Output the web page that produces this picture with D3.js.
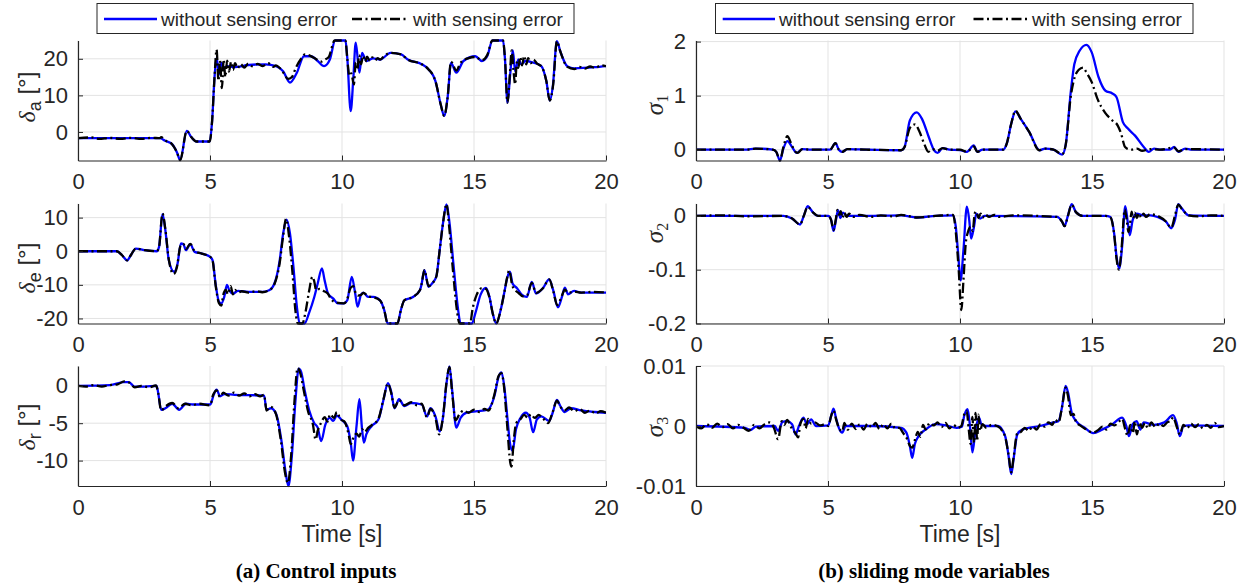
<!DOCTYPE html>
<html>
<head>
<meta charset="utf-8">
<script src="https://cdn.jsdelivr.net/npm/d3@7"></script>
<style>
  body { margin: 0; background: #fff; }
  svg { display: block; }
  text { font-family: "Liberation Sans", Arial, Helvetica, sans-serif; fill: #262626; }
</style>
</head>
<body>
<svg id="chart" width="1241" height="588"></svg>
<script>
// ---- data: [time (s), value] ----
var seriesNames = ["without sensing error", "with sensing error"];
var timeTicks = [0, 5, 10, 15, 20];

var deltaA_clean = [[0,-1.7],[3.1,-1.7],[3.3,-2.4],[3.57,-3.4],[3.75,-5.6],[3.87,-7.7],[4.12,0.3],[4.29,-1.4],[4.49,-2.6],[4.99,-2.6],[5.08,3],[5.17,14.8],[5.25,20.3],[5.34,15.7],[5.43,18.9],[5.52,17.5],[5.65,18],[5.93,17.7],[6.46,18.3],[7.1,18.5],[7.5,18],[7.77,16.6],[8.03,13.5],[8.29,16.2],[8.56,20.7],[8.82,20.7],[9.08,19.4],[9.32,18],[9.54,19.8],[9.74,25],[10.13,25],[10.2,20.3],[10.33,5.7],[10.43,14.8],[10.52,24.4],[10.66,16.2],[10.76,21.6],[10.92,19.4],[11.18,20.1],[11.44,19.8],[11.84,21.6],[12.24,21.2],[12.49,19.8],[13.02,18.5],[13.28,17.1],[13.54,13.9],[13.74,7.5],[13.87,4.4],[14.0,9.4],[14.13,18.9],[14.33,16.2],[14.6,19.4],[15.05,20.7],[15.3,19.4],[15.5,20.7],[15.7,25],[16.1,25],[16.17,20.3],[16.27,8],[16.37,15.7],[16.47,22.3],[16.56,16.6],[16.68,19.8],[16.8,18.5],[16.95,19.4],[17.22,19],[17.55,18],[17.74,13.9],[17.87,8.6],[17.98,12.1],[18.14,24.8],[18.27,22],[18.53,18],[18.8,17.4],[19.58,17.7],[20,18]];
var deltaA_noisy = [[0,-1.7],[0.5,-1.5],[0.8,-1.9],[1.2,-1.6],[1.6,-1.9],[2.0,-1.6],[2.4,-1.9],[2.8,-1.6],[3.1,-1.7],[3.15,-1.4],[3.3,-2.3],[3.57,-3.4],[3.75,-5.6],[3.87,-7.7],[4.12,0.3],[4.29,-1.4],[4.49,-2.6],[4.99,-2.6],[5.08,3],[5.17,14.8],[5.25,22.5],[5.32,14],[5.38,19.5],[5.45,12],[5.52,19.8],[5.58,15],[5.65,19.5],[5.72,16.5],[5.8,19.2],[5.87,17],[5.95,18.8],[6.05,17.4],[6.15,18.6],[6.3,17.6],[6.45,18.7],[6.6,18],[6.8,18.6],[7.0,18],[7.2,18.8],[7.4,17.8],[7.5,18.2],[7.65,17.4],[7.8,16],[7.95,14.5],[8.1,15],[8.25,17.5],[8.45,20],[8.6,21.2],[8.8,20.8],[9.0,20],[9.2,19.2],[9.35,19.8],[9.5,20.5],[9.72,25],[10.13,25],[10.2,20],[10.28,15.3],[10.35,16],[10.45,13],[10.52,19],[10.58,17],[10.65,21],[10.72,18.5],[10.8,20.8],[10.88,19.2],[10.95,20.6],[11.05,19.5],[11.15,20.4],[11.25,19.6],[11.35,20.2],[11.45,19.8],[11.6,20.8],[11.84,21.6],[12.24,21.2],[12.49,19.8],[13.02,18.5],[13.28,17.1],[13.54,13.9],[13.74,7.5],[13.87,4.4],[14.0,9.4],[14.13,19.2],[14.33,16.8],[14.5,19],[14.8,20.2],[15.05,20.5],[15.3,19.6],[15.5,21],[15.7,25],[16.1,25],[16.17,20.3],[16.27,8],[16.36,16],[16.43,22.3],[16.5,16.5],[16.56,13],[16.62,19],[16.68,17.5],[16.75,20.5],[16.82,18.2],[16.9,20.8],[16.98,18.5],[17.05,20.2],[17.15,18.8],[17.25,19.8],[17.4,18.6],[17.55,18],[17.74,13.9],[17.87,8.6],[18.0,13],[18.14,24.8],[18.27,22],[18.53,17.8],[18.8,17.2],[19.0,17.8],[19.2,17.3],[19.4,17.9],[19.6,17.5],[19.8,18.2],[20,18]];

var deltaE_clean = [[0,0],[1.47,0],[1.67,-1.2],[1.86,-2.7],[2.0,-1.2],[2.19,0.8],[2.52,0.3],[2.98,0],[3.07,1.3],[3.2,11],[3.31,6.2],[3.44,-2.7],[3.64,-6.1],[3.77,-3.7],[3.9,2.3],[3.99,2.1],[4.09,0.3],[4.25,2.1],[4.42,-0.2],[4.69,-0.7],[5.01,-1.7],[5.1,-2.7],[5.21,-9.6],[5.34,-15],[5.43,-15.5],[5.54,-13.6],[5.64,-10],[5.73,-11.6],[5.87,-12.6],[6.06,-11.8],[6.46,-12.1],[6.98,-12.1],[7.24,-11.6],[7.44,-9.6],[7.64,-2.7],[7.77,5.2],[7.9,9.4],[8.03,5.2],[8.16,-4.6],[8.29,-16.5],[8.4,-21.5],[8.58,-21.5],[8.75,-18.4],[8.95,-13.6],[9.08,-9.6],[9.24,-5.1],[9.34,-8.6],[9.47,-12.6],[9.67,-14.1],[9.84,-15.5],[10.07,-15.5],[10.2,-14.6],[10.37,-7.6],[10.5,-12.6],[10.59,-16.5],[10.72,-12.9],[10.81,-12.3],[10.99,-13.6],[11.18,-13.6],[11.44,-14.6],[11.6,-17.5],[11.73,-21.5],[12.1,-21.5],[12.23,-17.5],[12.36,-14.6],[12.69,-13.6],[12.95,-11.6],[13.02,-9.6],[13.12,-5.6],[13.28,-10.6],[13.41,-9.6],[13.57,-7.6],[13.7,0.3],[13.83,8.6],[13.96,13.9],[14.07,8.6],[14.23,-4.6],[14.4,-17.5],[14.49,-21.5],[14.92,-21.5],[15.05,-18.5],[15.25,-12.9],[15.45,-10.9],[15.58,-13.4],[15.71,-18.5],[15.84,-21.5],[16.01,-17.5],[16.14,-12.6],[16.27,-7.6],[16.36,-6.1],[16.46,-9.6],[16.63,-11],[16.82,-13],[17.0,-13.6],[17.19,-9.1],[17.35,-12.6],[17.61,-11],[17.85,-8.4],[18.0,-11.6],[18.18,-16.7],[18.33,-13.6],[18.44,-10.8],[18.56,-12.8],[18.79,-11.8],[19.06,-12.3],[20,-12.3]];
var deltaE_noisy = [[0,0],[1.47,0],[1.67,-1.2],[1.86,-2.7],[2.0,-1.2],[2.19,0.8],[2.52,0.3],[2.98,0],[3.07,1.3],[3.2,11.2],[3.31,6.5],[3.44,-2.5],[3.62,-6.8],[3.74,-5],[3.88,1.5],[3.99,2.2],[4.09,0.6],[4.25,2.2],[4.42,0],[4.69,-0.7],[5.01,-1.7],[5.1,-2.9],[5.21,-10],[5.34,-15.5],[5.43,-16.2],[5.5,-13],[5.6,-11.5],[5.68,-12.8],[5.78,-10.4],[5.87,-12.8],[5.95,-11.5],[6.06,-12.3],[6.2,-11.9],[6.46,-12.3],[6.75,-11.9],[6.98,-12.2],[7.24,-11.6],[7.44,-9.8],[7.64,-3.5],[7.77,4.5],[7.88,9.6],[8.0,4],[8.12,-6],[8.24,-18],[8.33,-21.5],[8.5,-21.5],[8.62,-18],[8.75,-12],[8.88,-7.6],[8.95,-9],[9.02,-11.6],[9.15,-11.2],[9.3,-11.8],[9.45,-12.5],[9.6,-14.4],[9.8,-15.3],[10.07,-15.5],[10.2,-14.2],[10.32,-11],[10.42,-10.4],[10.52,-12.5],[10.6,-13.2],[10.72,-13],[10.81,-12.4],[10.99,-13.4],[11.18,-13.7],[11.44,-14.6],[11.6,-17.5],[11.73,-21.5],[12.1,-21.5],[12.23,-17.5],[12.36,-14.6],[12.69,-13.6],[12.95,-11.6],[13.02,-9.6],[13.12,-5.6],[13.28,-10.4],[13.41,-9.6],[13.57,-7.6],[13.7,0.3],[13.83,8.6],[13.96,14],[14.05,8],[14.2,-5.5],[14.36,-18],[14.45,-21.5],[14.85,-21.5],[14.95,-17],[15.1,-13],[15.3,-11],[15.45,-11.2],[15.58,-13.6],[15.71,-18.5],[15.84,-21.5],[16.01,-17.5],[16.14,-12.6],[16.25,-8],[16.33,-5.7],[16.45,-10.2],[16.55,-11.5],[16.7,-12.5],[16.85,-13.4],[17.0,-13.2],[17.19,-9.4],[17.35,-12.4],[17.61,-11],[17.85,-8.4],[18.0,-11.8],[18.15,-16],[18.33,-13.2],[18.44,-11.4],[18.56,-12.4],[18.79,-12],[19.06,-12.3],[19.5,-12.1],[20,-12.3]];

var deltaR_clean = [[0,0],[1.21,0.1],[1.73,0.5],[1.93,0.5],[2.13,-0.1],[2.52,-0.1],[2.98,0],[3.04,-1],[3.15,-3.2],[3.31,-3],[3.57,-2.4],[3.83,-3.2],[4.09,-2.4],[4.36,-2.5],[5.01,-2.5],[5.14,-1.2],[5.25,-0.5],[5.38,-1.4],[5.54,-1.1],[5.93,-1.2],[7.05,-1.3],[7.14,-3.2],[7.31,-3],[7.51,-3.8],[7.7,-7.2],[7.87,-11.7],[7.97,-13.4],[8.1,-9.4],[8.23,-2.3],[8.36,2.3],[8.45,1.9],[8.58,-0.5],[8.75,-3.2],[8.95,-5],[9.08,-5.6],[9.21,-7.4],[9.37,-5.2],[9.54,-4.3],[9.67,-4.7],[9.8,-4],[10.0,-4.6],[10.2,-5.4],[10.33,-7.6],[10.42,-10],[10.55,-5.4],[10.66,-1.8],[10.76,-5.8],[10.83,-7.6],[10.92,-6.5],[11.12,-5.4],[11.38,-4.5],[11.57,-1.9],[11.74,0.35],[11.86,-0.75],[11.99,-3],[12.16,-1.8],[12.36,-2.7],[12.62,-2.3],[13.02,-2.5],[13.22,-4.1],[13.35,-3],[13.54,-4.1],[13.7,-6.1],[13.83,-4.1],[13.96,0.35],[14.07,2.6],[14.17,-0.5],[14.33,-5.6],[14.49,-4.3],[14.72,-3.6],[15.12,-3.4],[15.51,-3.2],[15.77,-1.4],[15.93,1.2],[16.04,1.8],[16.14,0.1],[16.27,-4.5],[16.36,-7.6],[16.46,-8.7],[16.59,-5.8],[16.76,-4.3],[16.96,-3.6],[17.11,-4.3],[17.24,-6.2],[17.38,-4.5],[17.55,-4.1],[17.85,-4.7],[17.98,-3.6],[18.14,-1.9],[18.27,-2.7],[18.43,-3.5],[18.67,-3],[19.06,-3.3],[19.58,-3.5],[20,-3.6]];
var deltaR_noisy = [[0,0],[0.3,-0.1],[0.6,0.1],[0.9,-0.1],[1.2,0.1],[1.5,0.2],[1.75,0.6],[1.95,0.4],[2.15,-0.2],[2.4,0],[2.7,-0.2],[2.95,0.05],[3.04,-1],[3.15,-3.3],[3.3,-2.8],[3.57,-2.3],[3.8,-3],[4.05,-2.4],[4.3,-2.6],[4.6,-2.4],[5.0,-2.6],[5.12,-1.2],[5.25,-0.6],[5.38,-1.5],[5.5,-0.9],[5.7,-1.3],[5.9,-0.9],[6.1,-1.3],[6.3,-1.0],[6.5,-1.4],[6.7,-1.1],[6.9,-1.4],[7.05,-1.2],[7.14,-3.3],[7.3,-2.8],[7.5,-3.8],[7.68,-7.2],[7.85,-11.8],[7.95,-13],[8.08,-9],[8.2,-2],[8.32,2.4],[8.42,1.7],[8.55,-0.6],[8.72,-3.5],[8.9,-5.2],[9.0,-7.2],[9.08,-6],[9.2,-5],[9.35,-4.2],[9.45,-4.8],[9.55,-3.8],[9.7,-4.3],[9.8,-3.5],[9.95,-4.5],[10.1,-4.8],[10.25,-6.5],[10.33,-7.8],[10.45,-6.8],[10.55,-6.4],[10.65,-6.8],[10.76,-5.8],[10.85,-6.2],[11.0,-5.6],[11.15,-5.2],[11.38,-4.4],[11.57,-1.8],[11.74,0.3],[11.86,-0.9],[11.99,-2.9],[12.16,-1.9],[12.36,-2.6],[12.62,-2.2],[12.85,-2.6],[13.02,-2.4],[13.22,-4.2],[13.35,-3.1],[13.54,-4.3],[13.68,-6.5],[13.83,-4],[13.96,0.5],[14.07,2.5],[14.17,-0.8],[14.3,-4.6],[14.45,-3.8],[14.6,-3.3],[14.8,-3.6],[15.0,-3.2],[15.2,-3.5],[15.4,-3.1],[15.55,-3.3],[15.77,-1.2],[15.93,1.3],[16.04,1.7],[16.14,-0.2],[16.25,-5],[16.38,-10.4],[16.42,-10.8],[16.5,-7.5],[16.6,-5],[16.75,-4.5],[16.9,-3.9],[17.05,-4.3],[17.15,-3.8],[17.3,-4.3],[17.45,-3.9],[17.6,-4.3],[17.8,-5],[17.98,-3.5],[18.14,-2],[18.27,-2.8],[18.43,-3.3],[18.6,-2.9],[18.8,-3.4],[19.0,-3.1],[19.2,-3.6],[19.4,-3.3],[19.6,-3.7],[19.8,-3.4],[20,-3.6]];

var sigma1_clean = [[0,0],[1.86,0],[2.26,0.02],[2.91,0],[3.04,-0.04],[3.18,-0.2],[3.31,0.02],[3.46,0.16],[3.64,0.05],[3.81,-0.06],[4.03,0.01],[4.36,0],[5.08,0],[5.28,0.12],[5.41,0],[5.54,-0.04],[5.73,0.01],[6.46,0],[7.77,-0.01],[7.9,0.05],[8.1,0.54],[8.36,0.69],[8.56,0.57],[8.82,0.23],[9.02,-0.01],[9.15,-0.06],[9.34,0.03],[9.6,0],[10.0,-0.01],[10.26,-0.04],[10.52,0.08],[10.66,-0.04],[10.85,0],[11.64,0],[11.77,0.11],[11.94,0.48],[12.1,0.71],[12.3,0.57],[12.62,0.33],[13.02,-0.01],[13.22,0.02],[13.54,0],[13.87,-0.09],[14.0,0.08],[14.2,1.09],[14.33,1.58],[14.53,1.83],[14.79,1.94],[14.99,1.8],[15.25,1.34],[15.51,1.09],[15.77,1.04],[15.93,0.97],[16.17,0.51],[16.36,0.39],[16.63,0.26],[16.96,0.05],[17.15,-0.04],[17.35,0.02],[17.61,0],[17.94,0],[18.11,0.05],[18.27,-0.04],[18.53,0.02],[18.79,0],[20,0]];
var sigma1_noisy = [[0,0],[1.86,0],[2.26,0.02],[2.91,0],[3.04,-0.04],[3.18,-0.2],[3.31,0.05],[3.46,0.25],[3.6,0.12],[3.75,-0.03],[3.85,-0.06],[4.03,0.01],[4.36,0],[5.08,0],[5.28,0.12],[5.41,0],[5.54,-0.04],[5.73,0.01],[6.46,0],[7.77,-0.01],[7.9,0.05],[8.1,0.4],[8.3,0.47],[8.45,0.35],[8.65,0.1],[8.8,-0.04],[8.95,0.01],[9.15,-0.02],[9.34,0.03],[9.6,0],[10.0,0],[10.26,-0.04],[10.52,0.06],[10.66,-0.04],[10.85,0],[11.64,0],[11.77,0.11],[11.94,0.48],[12.1,0.72],[12.3,0.57],[12.62,0.33],[13.0,-0.01],[13.22,0.02],[13.54,0],[13.87,-0.08],[14.0,0.08],[14.2,1.0],[14.35,1.35],[14.5,1.48],[14.66,1.52],[14.8,1.42],[14.99,1.25],[15.2,0.95],[15.5,0.68],[15.75,0.55],[15.97,0.45],[16.1,0.3],[16.25,0.05],[16.33,0.02],[16.5,0],[16.7,0.02],[16.9,-0.02],[17.2,0.01],[17.6,0],[18.11,0.04],[18.27,-0.03],[18.53,0.01],[20,0]];

var sigma2_clean = [[0,0],[3.31,0],[3.64,-0.005],[3.94,-0.016],[4.09,0.001],[4.23,0.018],[4.42,0.007],[4.62,0],[5.01,0],[5.12,-0.008],[5.21,-0.028],[5.3,-0.008],[5.38,0.01],[5.47,-0.004],[5.56,0.006],[5.73,0],[6.46,0],[7.77,0.001],[8.36,-0.003],[9.08,0],[9.74,0.001],[9.84,-0.02],[9.93,-0.07],[10.02,-0.12],[10.13,-0.064],[10.26,0.017],[10.35,-0.008],[10.42,-0.042],[10.52,-0.023],[10.62,0.004],[10.76,-0.005],[10.92,0],[13.67,-0.002],[13.87,-0.011],[13.96,-0.019],[14.09,0.001],[14.23,0.022],[14.39,0.007],[14.65,0],[15.51,0],[15.7,-0.002],[15.84,-0.033],[15.93,-0.076],[16.04,-0.098],[16.14,-0.057],[16.26,0.018],[16.36,-0.014],[16.43,-0.036],[16.54,-0.008],[16.69,0.004],[16.96,0.001],[17.22,0.001],[17.48,-0.002],[17.81,-0.011],[18.0,-0.023],[18.14,-0.008],[18.27,0.022],[18.4,0.014],[18.66,0.001],[20,0]];
var sigma2_noisy = [[0,0],[1,0.001],[2,-0.001],[3.31,0],[3.64,-0.005],[3.94,-0.016],[4.09,0.001],[4.23,0.017],[4.42,0.007],[4.62,0],[5.01,0],[5.12,-0.008],[5.21,-0.026],[5.3,-0.005],[5.36,0.011],[5.42,0.002],[5.48,0.009],[5.55,-0.004],[5.62,0.006],[5.7,-0.002],[5.8,0.004],[5.95,-0.002],[6.2,0.002],[6.6,-0.002],[7.0,0.001],[7.5,-0.001],[7.77,0.002],[8.36,-0.003],[9.08,0],[9.74,0.002],[9.84,-0.03],[9.95,-0.1],[10.05,-0.175],[10.13,-0.12],[10.22,-0.05],[10.3,-0.03],[10.4,-0.02],[10.48,-0.028],[10.56,0.005],[10.62,0.008],[10.7,-0.004],[10.78,0.004],[10.86,-0.003],[10.95,0.003],[11.1,-0.002],[11.3,0.002],[11.5,-0.002],[12,0.001],[13.67,-0.002],[13.87,-0.011],[13.96,-0.019],[14.09,0],[14.23,0.021],[14.39,0.007],[14.65,0],[15.51,0],[15.7,-0.003],[15.84,-0.035],[15.93,-0.08],[16.02,-0.1],[16.12,-0.06],[16.24,0.012],[16.32,-0.01],[16.38,-0.03],[16.44,-0.015],[16.5,0.008],[16.56,-0.005],[16.62,0.006],[16.7,-0.004],[16.78,0.005],[16.86,-0.003],[16.95,0.004],[17.05,-0.002],[17.2,0.003],[17.48,0],[17.81,-0.011],[18.0,-0.022],[18.14,0],[18.27,0.021],[18.4,0.013],[18.66,0.001],[19,-0.001],[19.5,0.001],[20,0]];

var sigma3_clean = [[0,0],[1.86,-0.0003],[2.06,-0.0007],[2.26,-0.0001],[2.98,0],[3.11,-0.0008],[3.28,0.0007],[3.44,0.0008],[3.64,0.0003],[3.77,-0.0014],[3.9,0],[4.07,0.0014],[4.2,0.0003],[4.36,0.0011],[4.55,0],[5.01,0.0001],[5.12,0.0017],[5.21,0.0029],[5.3,0.0014],[5.41,-0.0003],[5.54,-0.0011],[5.67,0],[6.72,0],[7.77,-0.0003],[7.97,-0.0011],[8.1,-0.0033],[8.19,-0.0053],[8.29,-0.003],[8.43,-0.0017],[8.69,-0.0006],[9.08,0.0003],[9.47,0.0001],[9.87,-0.0003],[10.07,-0.0001],[10.16,0.0017],[10.29,0.0028],[10.39,-0.0006],[10.47,-0.0044],[10.59,-0.0006],[10.72,0.0014],[10.81,0.0003],[10.99,0],[11.44,0],[11.71,-0.0017],[11.84,-0.005],[11.94,-0.008],[12.03,-0.0055],[12.17,-0.0014],[12.36,-0.0006],[13.02,0],[13.54,0.0006],[13.73,0.0008],[13.87,0.0033],[14.0,0.0067],[14.09,0.0056],[14.23,0.0022],[14.4,0.0008],[14.72,-0.0003],[15.05,-0.0012],[15.38,-0.0006],[15.77,0.0003],[16.14,0.0014],[16.3,0],[16.4,-0.0017],[16.54,0.0003],[16.69,0.0008],[16.83,-0.0006],[16.96,0.0006],[17.35,0.0002],[17.74,0.0006],[18.07,0.0018],[18.2,0.0006],[18.33,-0.0017],[18.46,0],[18.66,0.0001],[20,0]];
var sigma3_noisy = [[0,0],[0.2,-0.0004],[0.4,0.0003],[0.6,-0.0003],[0.8,0.0004],[1.0,-0.0002],[1.2,0.0003],[1.4,-0.0004],[1.6,0.0002],[1.8,-0.0003],[2.0,-0.0008],[2.2,0.0002],[2.4,-0.0004],[2.6,0.0003],[2.8,0.0006],[2.95,-0.0003],[3.11,-0.0022],[3.25,0.0008],[3.35,0.0002],[3.45,0.001],[3.6,-0.0002],[3.77,-0.0012],[3.87,-0.0019],[3.95,0.0003],[4.07,0.0012],[4.15,-0.0004],[4.25,0.0012],[4.36,0.0004],[4.5,0.0006],[4.7,0.0001],[4.9,0.0003],[5.01,0],[5.12,0.0017],[5.21,0.0026],[5.3,0.0012],[5.41,-0.0003],[5.54,-0.0009],[5.62,0.0005],[5.75,-0.0006],[5.9,0.0004],[6.05,-0.0005],[6.2,0.0003],[6.35,-0.0006],[6.5,0.0004],[6.65,-0.0002],[6.8,0.0005],[6.95,-0.0005],[7.1,0.0003],[7.25,-0.0004],[7.4,0.0004],[7.55,-0.0004],[7.7,-0.0003],[7.85,-0.0012],[8.0,-0.0022],[8.1,-0.0033],[8.19,-0.0036],[8.3,-0.0022],[8.4,-0.001],[8.5,-0.0018],[8.6,0.0002],[8.7,-0.0006],[8.85,0.0005],[9.0,0.0001],[9.15,0.0006],[9.3,-0.0002],[9.45,0.0005],[9.6,-0.0004],[9.75,0.0002],[9.9,-0.0003],[10.05,0],[10.15,0.0018],[10.25,0.0025],[10.33,-0.0005],[10.4,-0.003],[10.47,0.0015],[10.53,-0.0028],[10.59,0.0022],[10.65,-0.0025],[10.7,0.0019],[10.76,-0.0008],[10.85,0.0003],[11.0,-0.0003],[11.2,0.0002],[11.44,-0.0001],[11.6,-0.0008],[11.71,-0.0018],[11.84,-0.0048],[11.94,-0.0077],[12.03,-0.0052],[12.17,-0.0012],[12.3,-0.001],[12.45,-0.0003],[12.6,-0.0008],[12.75,-0.0001],[12.9,-0.0006],[13.05,0.0003],[13.2,-0.0001],[13.35,0.0006],[13.5,0.0002],[13.6,0.0011],[13.73,0.0006],[13.87,0.0033],[14.0,0.0064],[14.09,0.005],[14.2,0.0018],[14.3,0.002],[14.4,0.0006],[14.55,0.0001],[14.72,-0.0004],[15.05,-0.0011],[15.25,-0.0006],[15.4,-0.0001],[15.55,-0.0006],[15.7,0.0004],[15.85,0.0001],[16.0,0.0006],[16.14,0.0012],[16.25,-0.0004],[16.35,-0.0016],[16.45,0.0002],[16.55,-0.0012],[16.62,0.0008],[16.7,-0.0014],[16.8,0.0006],[16.9,-0.0003],[17.0,0.0005],[17.12,-0.0004],[17.25,0.0006],[17.4,-0.0002],[17.55,0.0004],[17.7,0],[17.85,0.0006],[18.0,0.0009],[18.07,0.0015],[18.2,0],[18.33,-0.0014],[18.46,0.0002],[18.6,-0.0004],[18.75,0.0004],[18.9,-0.0002],[19.05,0.0003],[19.2,-0.0004],[19.35,0.0002],[19.5,-0.0003],[19.65,0.0005],[19.8,-0.0002],[20,0]];

// axis limits and tick values per panel
var deltaA_ticks = [0, 10, 20], deltaE_ticks = [-20, -10, 0, 10], deltaR_ticks = [-10, -5, 0];
var sigma1_ticks = [0, 1, 2], sigma2_ticks = [-0.2, -0.1, 0], sigma3_ticks = [-0.01, 0, 0.01];

(function () {
    "use strict";

    var svg = d3.select("#chart");
    var cols = [{x0: 78, x1: 606}, {x0: 696, x1: 1224}];
    var rows = [{y0: 40.5, y1: 160.5}, {y0: 203.5, y1: 323.5}, {y0: 366, y1: 486}];
    var dashDot = "10,3.5,2,3.5";

    var panels = [
        {col: 0, row: 0, clean: deltaA_clean, noisy: deltaA_noisy, ylim: [-7.8, 25], ticks: deltaA_ticks, kind: "delta", sub: "a", labY: 97},
        {col: 0, row: 1, clean: deltaE_clean, noisy: deltaE_noisy, ylim: [-21.5, 14.2], ticks: deltaE_ticks, kind: "delta", sub: "e", labY: 268},
        {col: 0, row: 2, clean: deltaR_clean, noisy: deltaR_noisy, ylim: [-13.4, 2.65], ticks: deltaR_ticks, kind: "delta", sub: "r", labY: 427},
        {col: 1, row: 0, clean: sigma1_clean, noisy: sigma1_noisy, ylim: [-0.2, 2.02], ticks: sigma1_ticks, kind: "sigma", sub: "1", labY: 105},
        {col: 1, row: 1, clean: sigma2_clean, noisy: sigma2_noisy, ylim: [-0.2, 0.023], ticks: sigma2_ticks, kind: "sigma", sub: "2", labY: 233},
        {col: 1, row: 2, clean: sigma3_clean, noisy: sigma3_noisy, ylim: [-0.01, 0.01], ticks: sigma3_ticks, kind: "sigma", sub: "3", labY: 427}
    ];

    panels.forEach(function (p, i) {
        var c = cols[p.col], r = rows[p.row];
        var x = d3.scaleLinear().domain([0, 20]).range([c.x0, c.x1]);
        var y = d3.scaleLinear().domain(p.ylim).range([r.y1, r.y0]);
        var g = svg.append("g");

        svg.append("clipPath").attr("id", "clip" + i)
            .append("rect")
            .attr("x", c.x0).attr("y", r.y0 - 2)
            .attr("width", c.x1 - c.x0).attr("height", r.y1 - r.y0 + 4);

        // grid
        g.selectAll(".gx").data(timeTicks).enter().append("line")
            .attr("x1", function (d) { return x(d); }).attr("x2", function (d) { return x(d); })
            .attr("y1", r.y0).attr("y2", r.y1)
            .attr("stroke", "#e3e3e3").attr("stroke-width", 1);
        g.selectAll(".gy").data(p.ticks).enter().append("line")
            .attr("x1", c.x0).attr("x2", c.x1)
            .attr("y1", function (d) { return y(d); }).attr("y2", function (d) { return y(d); })
            .attr("stroke", "#e3e3e3").attr("stroke-width", 1);

        // series
        var line = d3.line()
            .x(function (d) { return x(d[0]); })
            .y(function (d) { return y(d[1]); })
            .curve(d3.curveMonotoneX);
        var lines = g.append("g").attr("clip-path", "url(#clip" + i + ")");
        lines.append("path").datum(p.clean)
            .attr("d", line).attr("fill", "none")
            .attr("stroke", "#0000ff").attr("stroke-width", 2.3)
            .attr("stroke-linejoin", "round");
        lines.append("path").datum(p.noisy)
            .attr("d", line).attr("fill", "none")
            .attr("stroke", "#000").attr("stroke-width", 2.3)
            .attr("stroke-dasharray", dashDot);

        // axes
        var ax = g.append("g").attr("transform", "translate(0," + r.y1 + ")")
            .call(d3.axisBottom(x).tickValues(timeTicks).tickSizeInner(-5).tickSizeOuter(0).tickPadding(13));
        var ay = g.append("g").attr("transform", "translate(" + c.x0 + ",0)")
            .call(d3.axisLeft(y).tickValues(p.ticks).tickSizeInner(-5).tickSizeOuter(0).tickPadding(10)
                .tickFormat(function (d) { return String(d); }));
        [ax, ay].forEach(function (a) {
            a.attr("font-family", null).attr("font-size", null);
            a.select(".domain").attr("stroke", "#262626").attr("stroke-width", 1.2);
            a.selectAll(".tick line").attr("stroke", "#262626");
            a.selectAll(".tick text").attr("fill", "#262626").style("font-size", "22px");
        });

        // y label
        var lx = p.kind === "delta" ? 35 : 663;
        var lab = svg.append("text")
            .attr("transform", "translate(" + lx + "," + p.labY + ") rotate(-90)")
            .attr("text-anchor", "middle");
        if (p.kind === "delta") {
            lab.style("font-size", "24px");
            lab.append("tspan").text("\u03b4")
                .style("font-family", "'Liberation Serif', 'DejaVu Serif', serif").style("font-style", "italic");
            lab.append("tspan").text(p.sub).attr("dy", 6).style("font-size", "18px");
            lab.append("tspan").text(" [\u00b0]").attr("dy", -6);
        } else {
            lab.style("font-family", "'Liberation Serif', 'DejaVu Serif', serif");
            lab.append("tspan").text("\u03c3").style("font-size", "25px").style("font-style", "italic");
            lab.append("tspan").text(p.sub).attr("dy", 5).style("font-size", "16px");
        }

        if (p.row === 2) {
            svg.append("text")
                .attr("x", (c.x0 + c.x1) / 2).attr("y", 542)
                .attr("text-anchor", "middle")
                .style("font-size", "23px")
                .text("Time [s]");
        }
    });

    // legends
    var legends = [
        {x: 97, w: 477, line1: [104, 157], text1: 161, line2: [352, 409], text2: 413},
        {x: 715.5, w: 477.5, line1: [722.7, 775], text1: 779, line2: [973.5, 1028], text2: 1032}
    ];
    legends.forEach(function (L) {
        var g = svg.append("g");
        g.append("rect").attr("x", L.x).attr("y", 3.5).attr("width", L.w).attr("height", 30)
            .attr("fill", "#fff").attr("stroke", "#262626").attr("stroke-width", 1);
        g.append("line").attr("x1", L.line1[0]).attr("x2", L.line1[1]).attr("y1", 19).attr("y2", 19)
            .attr("stroke", "#0000ff").attr("stroke-width", 2.3);
        g.append("text").attr("x", L.text1).attr("y", 26).style("font-size", "19px").text(seriesNames[0]);
        g.append("line").attr("x1", L.line2[0]).attr("x2", L.line2[1]).attr("y1", 19).attr("y2", 19)
            .attr("stroke", "#000").attr("stroke-width", 2.3).attr("stroke-dasharray", dashDot);
        g.append("text").attr("x", L.text2).attr("y", 26).style("font-size", "19px").text(seriesNames[1]);
    });

    // sub-figure captions
    var captions = [{x: 316, t: "(a) Control inputs"}, {x: 934, t: "(b) sliding mode variables"}];
    captions.forEach(function (cp) {
        svg.append("text").attr("x", cp.x).attr("y", 578)
            .attr("text-anchor", "middle")
            .style("font-family", "'Liberation Serif', 'Times New Roman', serif")
            .style("font-weight", "bold").style("font-size", "21px")
            .style("fill", "#000")
            .text(cp.t);
    });
})();
</script>
</body>
</html>
